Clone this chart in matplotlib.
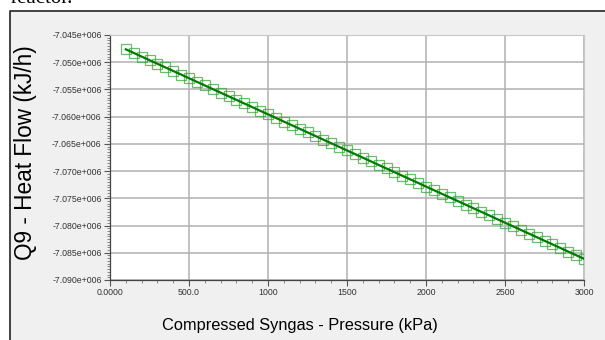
import numpy as np
import matplotlib.pyplot as plt
from matplotlib.patches import Rectangle
from matplotlib.ticker import MultipleLocator, FixedFormatter, FixedLocator

# -------------------
# Data
# -------------------
pressure = [100, 150, 200, 250, 300, 350, 400, 450, 500, 550,
            600, 650, 700, 750, 800, 850, 900, 950, 1000, 1050,
            1100, 1150, 1200, 1250, 1300, 1350, 1400, 1450, 1500, 1550,
            1600, 1650, 1700, 1750, 1800, 1850, 1900, 1950, 2000, 2050,
            2100, 2150, 2200, 2250, 2300, 2350, 2400, 2450, 2500, 2550,
            2600, 2650, 2700, 2750, 2800, 2850, 2900, 2950, 3000]

heat_flow = [-7047630, -7048290, -7048960, -7049620, -7050280, -7050950, -7051610, -7052270, -7052940, -7053600,
             -7054260, -7054930, -7055590, -7056250, -7056920, -7057580, -7058240, -7058910, -7059570, -7060230,
             -7060900, -7061560, -7062220, -7062890, -7063550, -7064210, -7064880, -7065540, -7066200, -7066870,
             -7067530, -7068190, -7068860, -7069520, -7070180, -7070850, -7071510, -7072170, -7072840, -7073500,
             -7074160, -7074830, -7075490, -7076150, -7076820, -7077480, -7078140, -7078810, -7079470, -7080130,
             -7080800, -7081460, -7082120, -7082790, -7083450, -7084110, -7084780, -7085440, -7086100]

x_ticks = [0, 500, 1000, 1500, 2000, 2500, 3000]
x_tick_labels = ["0.0000", "500.0", "1000", "1500", "2000", "2500", "3000"]
y_ticks = [-7.090e6, -7.085e6, -7.080e6, -7.075e6, -7.070e6, -7.065e6,
           -7.060e6, -7.055e6, -7.050e6, -7.045e6]
y_tick_labels = ["%.3fe+006" % (v / 1e6) for v in y_ticks]

# -------------------
# Figure
# -------------------
fig = plt.figure(figsize=(6.05, 3.4), dpi=100)
fig.patch.set_facecolor("white")

# gray panel with black left/top border
fig.patches.append(Rectangle((10 / 605, 0), 1, 1 - 11 / 340, transform=fig.transFigure,
                             facecolor="#f0f0f0", edgecolor="none", zorder=-2))
fig.lines.append(plt.Line2D([10 / 605, 10 / 605, 1], [0, 1 - 11 / 340, 1 - 11 / 340],
                            transform=fig.transFigure, color="#222222", lw=1.2, zorder=-1))

fig.text(0.017, 1 - 3 / 340, "reactor.", va="baseline", ha="left", fontsize=15,
         family="Liberation Serif", color="black")

ax = fig.add_axes([110 / 605, 1 - 280 / 340, 474 / 605, 245 / 340])
ax.set_zorder(2)
ax.set_facecolor("white")

ax.plot(pressure, heat_flow, color="#007a00", lw=1.6, zorder=3)
ax.plot(pressure, heat_flow, ls="none", marker="s", ms=6.5, mfc="none",
        mec="#3aa83a", mew=0.9, alpha=0.75, zorder=2)

ax.set_xlim(0, 3000)
ax.set_ylim(-7.090e6, -7.045e6)

ax.xaxis.set_major_locator(FixedLocator(x_ticks))
ax.xaxis.set_major_formatter(FixedFormatter(x_tick_labels))
ax.xaxis.set_minor_locator(MultipleLocator(100))
ax.yaxis.set_major_locator(FixedLocator(y_ticks))
ax.yaxis.set_major_formatter(FixedFormatter(y_tick_labels))
ax.yaxis.set_minor_locator(MultipleLocator(500))

tick_font = ["Liberation Sans", "DejaVu Sans"]
for lab in ax.get_xticklabels() + ax.get_yticklabels():
    lab.set_family(tick_font)
    lab.set_fontsize(6.3)
    lab.set_color("#333333")

ax.tick_params(which="major", length=4, width=0.8, color="#555555", pad=2)
ax.tick_params(which="minor", length=2, width=0.6, color="#777777")

ax.grid(True, which="major", color="#b0b0b0", lw=1.1)
ax.set_axisbelow(True)

for side in ["top", "right"]:
    ax.spines[side].set_color("#c8c8c8")
    ax.spines[side].set_linewidth(0.8)
for side in ["left", "bottom"]:
    ax.spines[side].set_color("#444444")
    ax.spines[side].set_linewidth(0.9)

ax.set_ylabel("Q9 - Heat Flow (kJ/h)", fontsize=16.3,
              family=["Liberation Sans", "DejaVu Sans"])
ax.set_xlabel("Compressed Syngas - Pressure (kPa)", fontsize=11.8,
              family=["Liberation Sans", "DejaVu Sans"])
ax.xaxis.set_label_coords((300 - 110) / 474, -38 / 245)
ax.yaxis.set_label_coords(-(110 - 37) / 474, 0.52)

fig.savefig("out.png", dpi=100)
